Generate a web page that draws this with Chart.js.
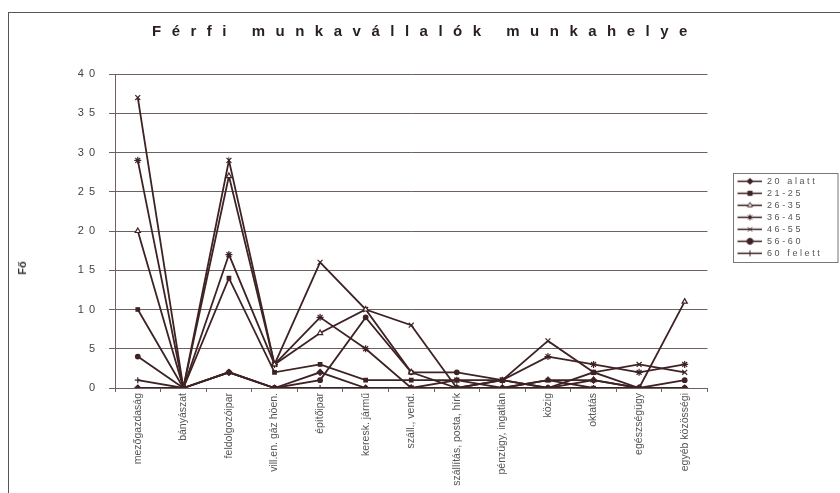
<!DOCTYPE html>
<html>
<head>
<meta charset="utf-8">
<script src="https://cdn.jsdelivr.net/npm/chart.js@4.4.1/dist/chart.umd.min.js"></script>
<style>
    body { margin: 0; background: #fff; }
    #wrap { position: relative; width: 840px; height: 493px; overflow: hidden; }
    #frame { position: absolute; left: 8px; top: 12px; width: 860px; height: 500px; border: 1px solid #555; box-sizing: border-box; }
    #title { position: absolute; left: 0; top: 22px; width: 840px; padding-left: 10px; box-sizing: border-box; text-align: center;
        font: bold 15px "Liberation Sans", Arial, sans-serif; letter-spacing: 10.5px; color: #2a1e1e; }
    #ytitle { position: absolute; left: 22px; top: 268px; transform: translate(-50%, -50%) rotate(-90deg);
        font: bold 11px "Liberation Sans", Arial, sans-serif; color: #333; }
    canvas { position: absolute; left: 0; top: 0; }
</style>
</head>
<body>
<div id="wrap">
    <div id="frame"></div>
    <canvas id="chart" width="840" height="493"></canvas>
    <div id="title">Férfi munkavállalók munkahelye</div>
    <div id="ytitle">Fő</div>
</div>
<script>
// Categories (workplace sectors)
const categories = ["mezőgazdaság", "bányászat", "feldolgozóipar", "vill.en. gáz höen.", "építőipar", "keresk. jármű",
    "száll., vend.", "szállítás, posta, hírk", "pénzügy, ingatlan", "közig", "oktatás", "egészségügy", "egyéb közösségi"];

// Age groups
const seriesNames = ["20 alatt", "21-25", "26-35", "36-45", "46-55", "56-60", "60 felett"];

const under20 = [0, 0, 2, 0, 2, 0, 0, 0, 0, 0, 1, 0, 0];
const age21to25 = [10, 0, 14, 2, 3, 1, 1, 1, 0, 1, 0, 0, 0];
const age26to35 = [20, 0, 27, 3, 7, 10, 2, 0, 0, 1, 1, 0, 11];
const age36to45 = [29, 0, 17, 3, 9, 5, 0, 1, 1, 4, 3, 2, 3];
const age46to55 = [37, 0, 29, 3, 16, 10, 8, 0, 1, 6, 2, 3, 2];
const age56to60 = [4, 0, 2, 0, 1, 9, 2, 2, 1, 0, 2, 0, 1];
const over60 = [1, 0, 2, 0, 0, 0, 0, 0, 1, 0, 0, 0, 0];

const yTicks = [0, 5, 10, 15, 20, 25, 30, 35, 40];

const lineColor = "#3e2224";
const gridColor = "#6e6060";
const markers = ["rectRot", "rect", "triangle", "star", "crossRot", "circle", "cross"];
const fills = [lineColor, lineColor, "#ffffff", lineColor, lineColor, lineColor, lineColor];
const radii = [3, 2.5, 3, 3.5, 3.5, 2.3, 3];
const values = [under20, age21to25, age26to35, age36to45, age46to55, age56to60, over60];

// Small legend icons: line with the marker in the middle
const iconWidth = 52;
const legendIcons = markers.map((style, i) => {
    let c = document.createElement("canvas");
    c.width = iconWidth;
    c.height = 9;
    let g = c.getContext("2d");
    g.strokeStyle = lineColor;
    g.lineWidth = 1.5;
    g.beginPath();
    g.moveTo(27, 4.5);
    g.lineTo(iconWidth, 4.5);
    g.stroke();
    g.fillStyle = fills[i];
    g.lineWidth = 1;
    Chart.helpers.drawPoint(g, { pointStyle: style, radius: 3, rotation: 0, borderWidth: 1 }, 39.5, 4.5);
    return c;
});

// Draw some boxes with wider letter spacing, like the scanned original
function spaceOut(item, px, widen) {
    if (!item || item._spaced) return;
    const orig = item.draw;
    item.draw = function (area) {
        const right = this.right;
        if (widen) this.right = this.chart.width;
        this.ctx.save();
        this.ctx.letterSpacing = px + "px";
        orig.call(this, area);
        this.ctx.restore();
        this.right = right;
    };
    item._spaced = true;
}

const spacingPlugin = {
    id: "spacing",
    beforeLayout(chart) {
        spaceOut(chart.scales.y, 5, false);
        spaceOut(chart.legend, 2.6, true);
    }
};

// Border around the legend items
const legendBoxPlugin = {
    id: "legendBox",
    afterDraw(chart) {
        const boxes = chart.legend.legendHitBoxes;
        if (!boxes || !boxes.length) return;
        const first = boxes[0];
        const last = boxes[boxes.length - 1];
        const ctx = chart.ctx;
        ctx.save();
        ctx.strokeStyle = "#777";
        ctx.lineWidth = 1;
        const left = Math.round(first.left + 23) + 0.5;
        const top = Math.round(first.top - 4) + 0.5;
        const bottom = Math.round(last.top + last.height + 4) + 0.5;
        ctx.strokeRect(left, top, chart.width - 2 - left, bottom - top);
        ctx.restore();
    }
};

const datasets = seriesNames.map((name, i) => ({
    label: name,
    data: values[i],
    borderColor: lineColor,
    backgroundColor: fills[i],
    pointBackgroundColor: fills[i],
    pointBorderColor: lineColor,
    pointStyle: markers[i],
    pointRadius: radii[i],
    pointBorderWidth: 1.2,
    borderWidth: 1.8,
    tension: 0,
    fill: false
}));

new Chart(document.getElementById("chart"), {
    type: "line",
    data: { labels: categories, datasets: datasets },
    options: {
        responsive: false,
        animation: false,
        events: [],
        layout: { padding: { left: 0, right: 31, top: 74, bottom: 5 } },
        scales: {
            x: {
                offset: true,
                grid: { offset: true, drawOnChartArea: false, tickLength: 4, color: gridColor },
                border: { color: gridColor },
                ticks: {
                    autoSkip: false,
                    minRotation: 90,
                    maxRotation: 90,
                    padding: 1,
                    color: "#555",
                    font: { family: "Liberation Sans, Arial, sans-serif", size: 10.5 }
                },
                afterFit: s => { s.height = 100; }
            },
            y: {
                min: 0,
                max: 40,
                afterBuildTicks: s => { s.ticks = yTicks.map(v => ({ value: v })); },
                grid: { color: gridColor, tickLength: 6 },
                border: { color: gridColor },
                ticks: {
                    padding: 9,
                    color: "#444",
                    font: { family: "Liberation Sans, Arial, sans-serif", size: 11 }
                },
                afterFit: s => { s.width = 115; }
            }
        },
        plugins: {
            title: { display: false },
            tooltip: { enabled: false },
            legend: {
                display: true,
                position: "right",
                align: "start",
                title: { display: true, text: " ", padding: { top: 89, bottom: 0 }, font: { size: 9 } },
                labels: {
                    usePointStyle: true,
                    pointStyleWidth: iconWidth,
                    padding: 3,
                    color: "#555",
                    font: { family: "Liberation Sans, Arial, sans-serif", size: 9 },
                    generateLabels: chart => Chart.defaults.plugins.legend.labels.generateLabels(chart)
                        .map((l, i) => ({ ...l, pointStyle: legendIcons[i] }))
                }
            }
        }
    },
    plugins: [spacingPlugin, legendBoxPlugin]
});
</script>
</body>
</html>
